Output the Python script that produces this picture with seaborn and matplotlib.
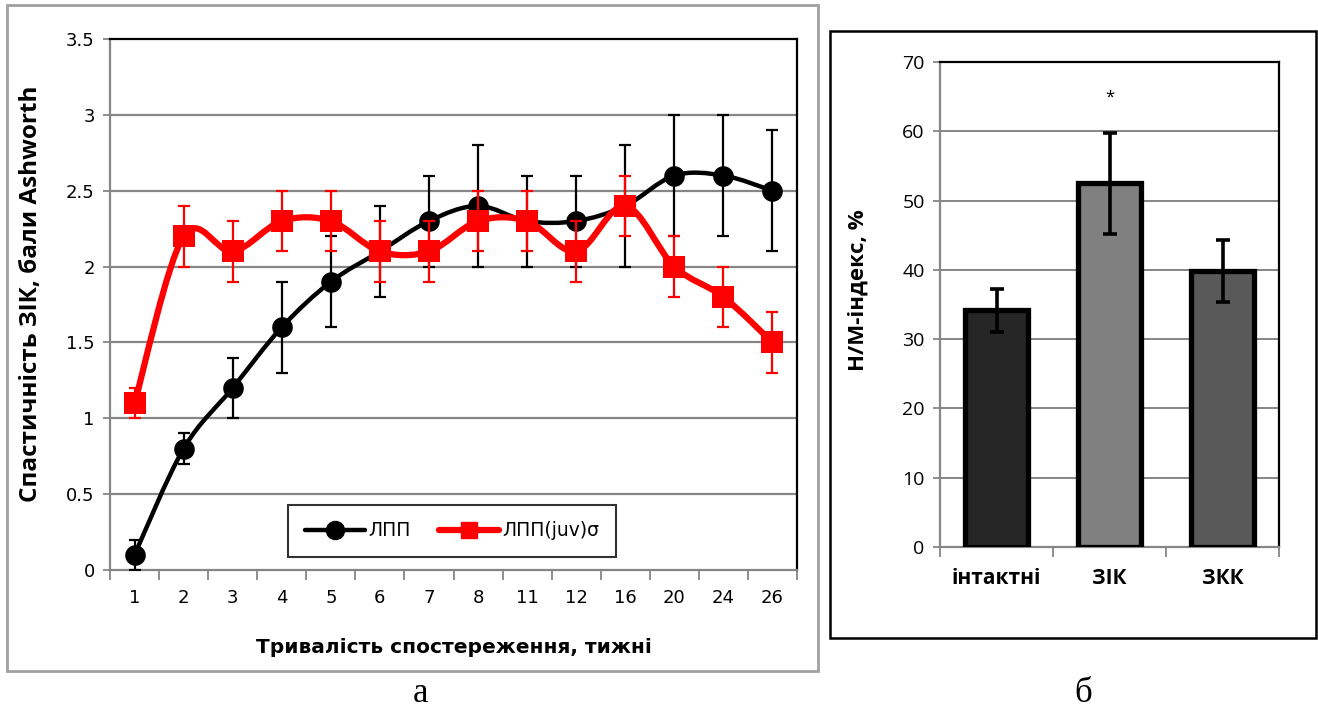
import numpy as np
import pandas as pd
import matplotlib
matplotlib.use("Agg")
import matplotlib.pyplot as plt
from matplotlib.path import Path
from matplotlib.patches import PathPatch, Rectangle
from matplotlib.lines import Line2D
import seaborn as sns

# ---- data: spasticity over time ----
weeks = ["1", "2", "3", "4", "5", "6", "7", "8", "11", "12", "16", "20", "24", "26"]
lpp_mean = [0.1, 0.8, 1.2, 1.6, 1.9, 2.1, 2.3, 2.4, 2.3, 2.3, 2.4, 2.6, 2.6, 2.5]
lpp_err = [0.1, 0.1, 0.2, 0.3, 0.3, 0.3, 0.3, 0.4, 0.3, 0.3, 0.4, 0.4, 0.4, 0.4]
juv_mean = [1.1, 2.2, 2.1, 2.3, 2.3, 2.1, 2.1, 2.3, 2.3, 2.1, 2.4, 2.0, 1.8, 1.5]
juv_err = [0.1, 0.2, 0.2, 0.2, 0.2, 0.2, 0.2, 0.2, 0.2, 0.2, 0.2, 0.2, 0.2, 0.2]
series_names = ["ЛПП", "ЛПП(juv)σ"]

# ---- data: H/M index ----
groups = ["інтактні", "ЗІК", "ЗКК"]
hm_mean = [34.2, 52.5, 39.8]
hm_err = [3.1, 7.3, 4.5]
hm_colors = ["#262626", "#808080", "#595959"]
star_y = 64.8

sns.set_theme(style="white")
narrow = ["Liberation Sans Narrow", "DejaVu Sans"]
wide = ["Open Sans", "DejaVu Sans"]
plt.rcParams["font.family"] = wide
plt.rcParams.update({
    "text.color": "black",
    "axes.labelcolor": "black",
    "xtick.labelcolor": "black",
    "ytick.labelcolor": "black",
})

W, H = 1318, 708
fig = plt.figure(figsize=(W / 100, H / 100), dpi=100)


def fx(px):
    return px / W


def fy(py):
    return 1 - py / H


GRID = "#868686"

# panel frames
fig.patches.append(Rectangle((fx(7), fy(671)), fx(811), 666 / H, transform=fig.transFigure,
                             fill=False, edgecolor="#a0a0a0", linewidth=2))
fig.patches.append(Rectangle((fx(830), fy(638)), fx(486), 607 / H, transform=fig.transFigure,
                             fill=False, edgecolor="black", linewidth=1.8))


def smooth_path(xs, ys):
    """Catmull-Rom style smooth curve through the points as cubic Bezier segments."""
    pts = np.column_stack([xs, ys]).astype(float)
    n = len(pts)
    verts = [pts[0]]
    codes = [Path.MOVETO]
    for i in range(n - 1):
        p0 = pts[i - 1] if i > 0 else pts[i]
        p1 = pts[i]
        p2 = pts[i + 1]
        p3 = pts[i + 2] if i + 2 < n else pts[i + 1]
        c1 = p1 + (p2 - p0) / 6.0
        c2 = p2 - (p3 - p1) / 6.0
        verts += [c1, c2, p2]
        codes += [Path.CURVE4] * 3
    return Path(verts, codes)


# ---------------- left panel ----------------
axL = fig.add_axes([fx(110), fy(570), fx(687), 531 / H])
xpos = np.arange(len(weeks))
df = pd.DataFrame({
    "x": np.concatenate([xpos, xpos]),
    "y": lpp_mean + juv_mean,
    "series": [series_names[0]] * len(weeks) + [series_names[1]] * len(weeks),
})

# black series
axL.errorbar(xpos, lpp_mean, yerr=lpp_err, fmt="none", ecolor="black",
             elinewidth=1.6, capsize=4.5, capthick=1.6, zorder=3)
axL.add_patch(PathPatch(smooth_path(xpos, lpp_mean), fill=False, edgecolor="black",
                        linewidth=3.2, zorder=4, capstyle="round"))
sns.scatterplot(data=df[df.series == series_names[0]], x="x", y="y", ax=axL,
                color="black", marker="o", s=220, edgecolor="black", linewidth=0,
                zorder=5, legend=False)
# red series
axL.errorbar(xpos, juv_mean, yerr=juv_err, fmt="none", ecolor="#ff0000",
             elinewidth=1.6, capsize=4.5, capthick=1.6, zorder=6)
axL.add_patch(PathPatch(smooth_path(xpos, juv_mean), fill=False, edgecolor="#ff0000",
                        linewidth=4.5, zorder=7, capstyle="round"))
sns.scatterplot(data=df[df.series == series_names[1]], x="x", y="y", ax=axL,
                color="#ff0000", marker="s", s=230, edgecolor="#ff0000", linewidth=0,
                zorder=8, legend=False)

axL.set_xlim(-0.5, len(weeks) - 0.5)
axL.set_ylim(0, 3.5)
axL.set_yticks(np.arange(0, 3.51, 0.5))
axL.set_yticklabels(["0", "0.5", "1", "1.5", "2", "2.5", "3", "3.5"])
axL.set_xticks(xpos)
axL.set_xticklabels(weeks)
axL.set_xticks(np.arange(-0.5, len(weeks), 1.0), minor=True)
axL.tick_params(axis="x", which="major", length=0, pad=14, labelsize=13)
axL.tick_params(axis="x", which="minor", length=7, width=1.3, color=GRID, direction="out")
axL.tick_params(axis="y", length=5, width=1.3, color=GRID, direction="out", pad=6, labelsize=13)
axL.xaxis.set_ticks_position("bottom")
axL.yaxis.set_ticks_position("left")
for lab in axL.get_xticklabels() + axL.get_yticklabels():
    lab.set_family(narrow)
for v in np.arange(0.5, 3.01, 0.5):
    axL.axhline(v, color=GRID, linewidth=1.6, zorder=1)
for side in ("left", "bottom"):
    axL.spines[side].set_color(GRID)
    axL.spines[side].set_linewidth(1.6)
for side in ("top", "right"):
    axL.spines[side].set_color("black")
    axL.spines[side].set_linewidth(1.6)
axL.set_ylabel("Спастичність ЗІК, бали Ashworth", fontsize=17.5, fontweight="bold",
               family=wide, labelpad=4)
axL.yaxis.set_label_coords(-0.097, 0.52)
axL.set_xlabel("Тривалість спостереження, тижні", fontsize=14.5, fontweight="bold",
               family=narrow, labelpad=22)

handles = [
    Line2D([], [], color="black", linewidth=3.2, marker="o", markersize=13),
    Line2D([], [], color="#ff0000", linewidth=4.5, marker="s", markersize=12),
]
leg = axL.legend(handles, series_names, ncol=2, loc="center",
                 bbox_to_anchor=(fx(452), fy(531)), bbox_transform=fig.transFigure,
                 frameon=True, fancybox=False, edgecolor="black", handlelength=3.2,
                 handletextpad=0.2, columnspacing=1.5, borderpad=0.9,
                 prop={"family": narrow, "size": 13.5})
leg.get_frame().set_linewidth(1.5)
leg.set_zorder(10)

fig.text(fx(420), fy(693), "а", ha="center", va="center", fontsize=25,
         family=["Liberation Serif", "DejaVu Serif"])

# ---------------- right panel ----------------
axR = fig.add_axes([fx(940), fy(547), fx(339), 485 / H])
dfb = pd.DataFrame({"group": groups, "value": hm_mean})
sns.barplot(data=dfb, x="group", y="value", hue="group", palette=hm_colors,
            order=groups, hue_order=groups, width=0.55, edgecolor="black",
            linewidth=3.8, legend=False, ax=axR, zorder=3)
axR.errorbar(np.arange(len(groups)), hm_mean, yerr=hm_err, fmt="none", ecolor="black",
             elinewidth=2.6, capsize=5, capthick=2.6, zorder=5)
axR.text(1, star_y, "*", ha="center", va="center", fontsize=12, family=wide)

axR.set_xlim(-0.5, len(groups) - 0.5)
axR.set_ylim(0, 70)
axR.set_yticks(np.arange(0, 71, 10))
axR.set_xticks(np.arange(len(groups)))
axR.set_xticklabels(groups, fontweight="bold", fontsize=15)
axR.set_xticks(np.arange(-0.5, len(groups), 1.0), minor=True)
axR.tick_params(axis="x", which="major", length=0, pad=15)
axR.tick_params(axis="x", which="minor", length=7, width=1.3, color=GRID, direction="out")
axR.tick_params(axis="y", length=5, width=1.3, color=GRID, direction="out", pad=6, labelsize=14)
axR.xaxis.set_ticks_position("bottom")
axR.yaxis.set_ticks_position("left")
for v in np.arange(10, 61, 10):
    axR.axhline(v, color=GRID, linewidth=1.4, zorder=1)
for side in ("left", "bottom"):
    axR.spines[side].set_color(GRID)
    axR.spines[side].set_linewidth(1.6)
for side in ("top", "right"):
    axR.spines[side].set_color("black")
    axR.spines[side].set_linewidth(1.6)
axR.set_xlabel("")
axR.set_ylabel("Н/М-індекс, %", fontsize=16, fontweight="bold", labelpad=12)
axR.yaxis.set_label_coords(-0.21, 0.53)

fig.text(fx(1083), fy(693), "б", ha="center", va="center", fontsize=25,
         family=["Liberation Serif", "DejaVu Serif"])

fig.savefig("out.png", dpi=100)
